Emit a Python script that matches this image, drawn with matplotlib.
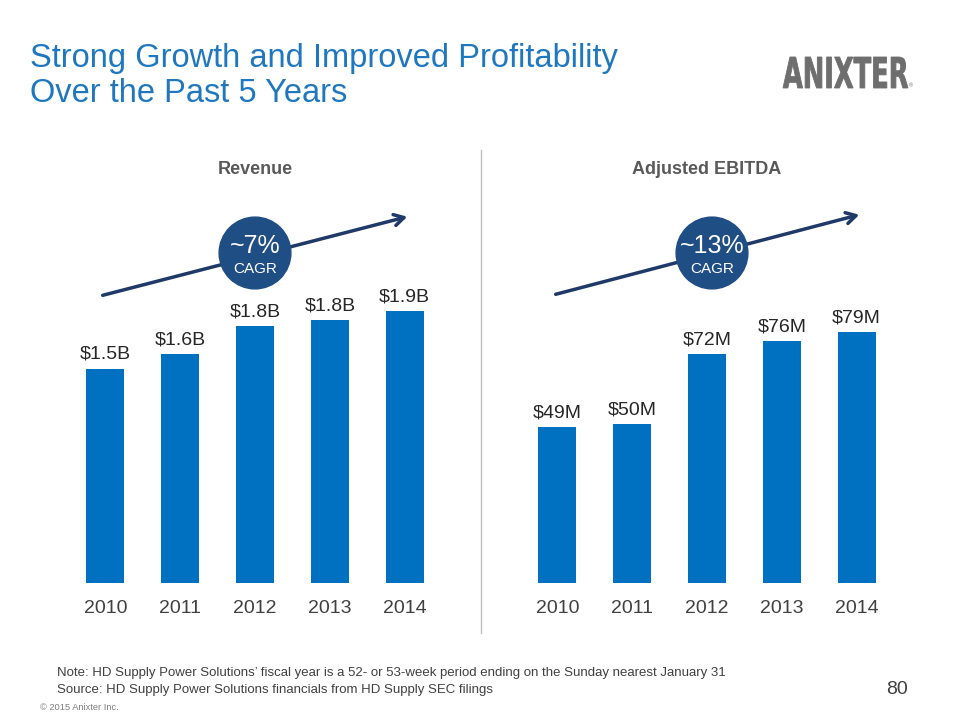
import matplotlib
matplotlib.use("Agg")
import matplotlib.pyplot as plt
from matplotlib.patches import Circle, FancyArrowPatch, PathPatch
from matplotlib.lines import Line2D
from matplotlib.textpath import TextPath
from matplotlib.font_manager import FontProperties
from matplotlib.transforms import Affine2D

plt.rcParams['font.family'] = ['Liberation Sans', 'DejaVu Sans']

years = ["2010", "2011", "2012", "2013", "2014"]
revenue = [1.5, 1.6, 1.8, 1.84, 1.9]
revenue_labels = ["$1.5B", "$1.6B", "$1.8B", "$1.8B", "$1.9B"]
ebitda = [49, 50, 72, 76, 79]
ebitda_labels = ["$49M", "$50M", "$72M", "$76M", "$79M"]

BAR = "#0070C0"
NAVY = "#1F4E85"
ARROW = "#1F3A68"
TITLE = "#1F78BF"
GRAY = "#595959"

W, H = 960, 720
fig = plt.figure(figsize=(9.6, 7.2), dpi=100)

def fx(px): return px / W
def fy(py): return 1 - py / H

def panel(left_px, values, labels, ymax, title):
    ax = fig.add_axes([fx(left_px), fy(583), fx(374), (583 - 200) / H])
    ax.bar(range(len(values)), values, width=0.51, color=BAR)
    ax.set_xlim(-0.5, len(values) - 0.5)
    ax.set_ylim(0, ymax)
    ax.set_yticks([])
    ax.set_xticks(range(len(values)))
    ax.set_xticklabels(years, fontsize=14, color="#404040")
    ax.tick_params(axis='x', length=0, pad=12)
    for s in ax.spines.values():
        s.set_visible(False)
    for i, (v, lab) in enumerate(zip(values, labels)):
        ax.annotate(lab, (i, v), xytext=(0, 4), textcoords="offset points",
                    ha="center", va="bottom", fontsize=14, color="#262626")
    fig.text(fx(left_px + 187), fy(170), title, ha="center", va="center",
             fontsize=13, fontweight="bold", color=GRAY)
    return ax

panel(68, revenue, revenue_labels, 383 / 143.0, "Revenue")
panel(520, ebitda, ebitda_labels, 383 / 3.18, "Adjusted EBITDA")

# arrows and CAGR circles
for (x0, y0, x1, y1, cx, cy, pct) in [(100, 296, 410, 216, 255, 253, "~7%"),
                                      (553, 295, 862, 214, 712, 253, "~13%")]:
    arr = FancyArrowPatch((fx(x0), fy(y0)), (fx(x1), fy(y1)), transform=fig.transFigure,
                          arrowstyle="->,head_length=7,head_width=4", color=ARROW, lw=2.5,
                          mutation_scale=1, zorder=1)
    fig.add_artist(arr)
    cax = fig.add_axes([fx(cx - 37), fy(cy + 37), fx(74), 74 / H])
    cax.set_zorder(5)
    cax.set_xlim(-1, 1); cax.set_ylim(-1, 1); cax.axis("off")
    cax.add_patch(Circle((0, 0), 0.97, color=NAVY))
    cax.text(0, 0.2, pct, ha="center", va="center", fontsize=18, color="white")
    cax.text(0, -0.42, "CAGR", ha="center", va="center", fontsize=11, color="white")

# divider
fig.add_artist(Line2D([fx(481), fx(481)], [fy(150), fy(633)], color="#BFBFBF", lw=1))

# title
fig.text(fx(30), fy(59), "Strong Growth and Improved Profitability", fontsize=23.5,
         color=TITLE, va="center", ha="left")
fig.text(fx(30), fy(93), "Over the Past 5 Years", fontsize=23.5,
         color=TITLE, va="center", ha="left")

# logo: text path stretched to the logo box
tp = TextPath((0, 0), "ANIXTER", size=10,
              prop=FontProperties(family="DejaVu Sans", weight="bold"))
ext = tp.get_extents()
x0p, x1p, ytop, ybot = 783, 908, 57, 88
sx = (fx(x1p) - fx(x0p)) / ext.width
sy = (fy(ytop) - fy(ybot)) / ext.height
tr = Affine2D().translate(-ext.x0, -ext.y0).scale(sx, sy).translate(fx(x0p), fy(ybot))
logo = PathPatch(tr.transform_path(tp), facecolor="#6E6E6E", edgecolor="#6E6E6E",
                 linewidth=0.6, transform=fig.transFigure)
fig.add_artist(logo)
fig.text(fx(911), fy(86), "\u00ae", fontsize=4, color="#6E6E6E", va="center", ha="center")

# footer
fig.text(fx(57), fy(673), "Note: HD Supply Power Solutions\u2019 fiscal year is a 52- or 53-week period ending on the Sunday nearest January 31",
         fontsize=9.5, color="#404040", va="center")
fig.text(fx(57), fy(690), "Source: HD Supply Power Solutions financials from HD Supply SEC filings",
         fontsize=9.5, color="#404040", va="center")
fig.text(fx(897), fy(690), "80", fontsize=14, color="#404040", va="center", ha="center")
fig.text(fx(40), fy(708), "\u00a9 2015 Anixter Inc.", fontsize=6.7, color="#7F7F7F", va="center")

fig.savefig("out.png", dpi=100)
